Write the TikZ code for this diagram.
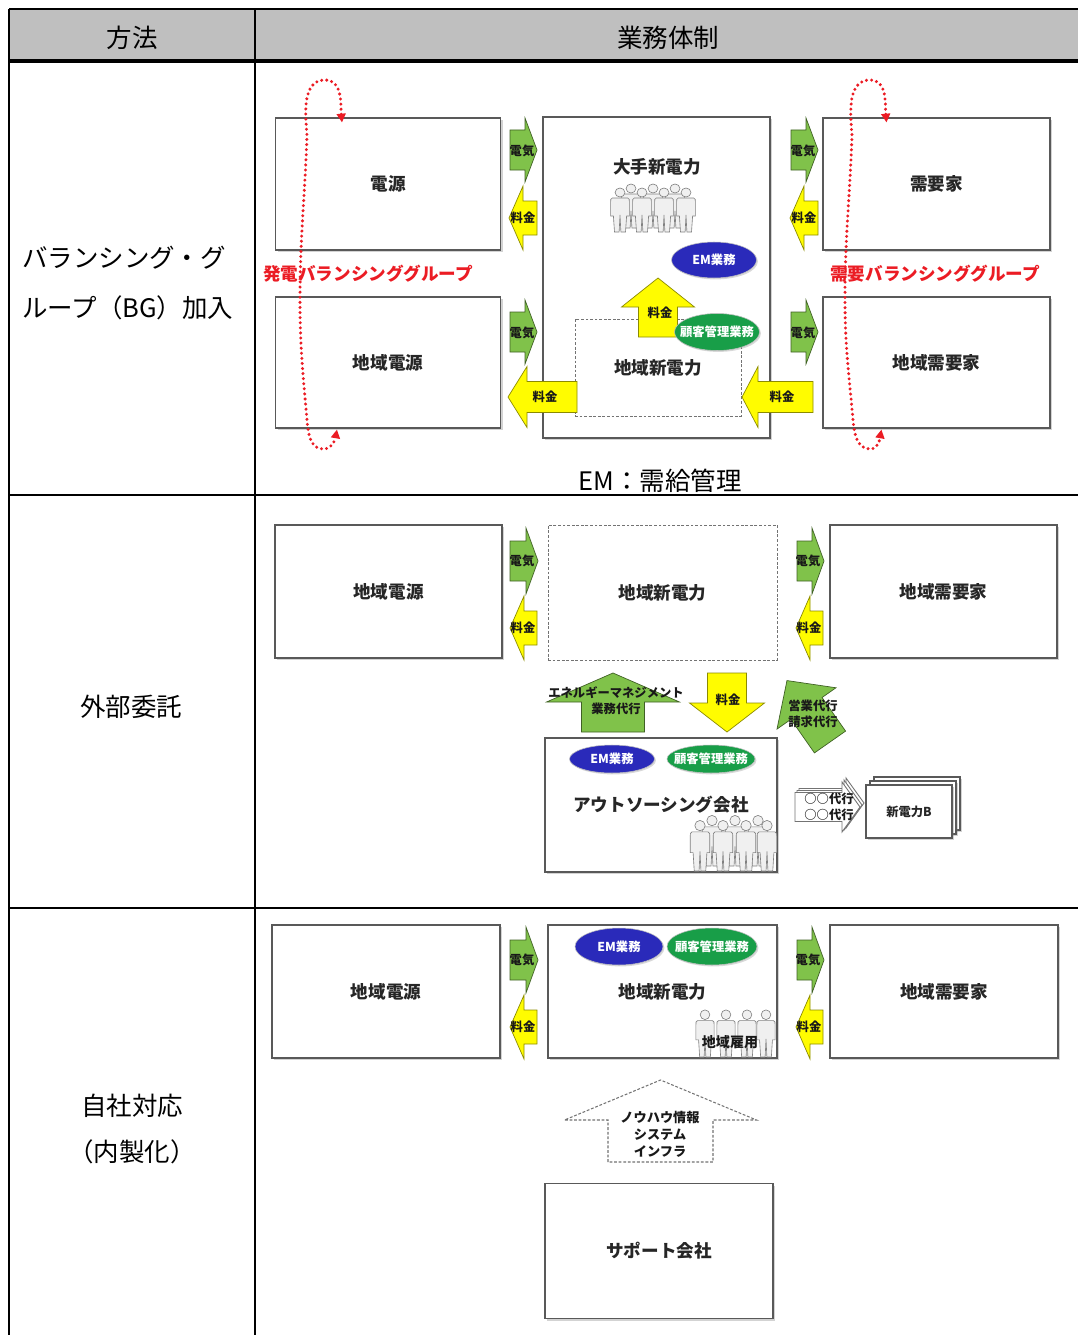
\documentclass[tikz,border=0pt]{standalone}
\usepackage{fontspec}
\setmainfont{Noto Sans CJK JP}
\usetikzlibrary{calc,shadows,shapes.geometric,arrows.meta}
\definecolor{elgreen}{RGB}{128,194,74}
\definecolor{feeyel}{RGB}{255,252,0}
\definecolor{emblue}{RGB}{42,42,186}
\definecolor{cmgreen}{RGB}{24,158,72}
\definecolor{bgred}{RGB}{235,28,36}
\tikzset{
  every node/.style={inner sep=1pt},
  wh/.style 2 args={minimum width=#1*0.02cm, minimum height=#2*0.02cm},
  tabline/.style={line width=1.2pt},
  headtxt/.style={font=\fontsize{14.5}{17}\selectfont},
  boxlab/.style={font=\fontsize{10}{12}\selectfont\bfseries, text=black!85},
  unit/.style={rectangle, draw=black!65, line width=0.6pt, fill=white, boxlab,
    drop shadow={shadow xshift=1.3pt, shadow yshift=-1.3pt, opacity=0.35}},
  dashunit/.style={rectangle, draw=black!55, dash pattern=on 1.6pt off 1pt, line width=0.5pt, fill=white, boxlab},
  elec/.style={fill=elgreen, draw=elgreen!50!black, line width=0.4pt},
  fee/.style={fill=feeyel, draw=feeyel!55!black, line width=0.4pt},
  agent/.style={fill=white, draw=black!55, line width=0.5pt},
  knowhow/.style={fill=white, draw=black!55, dash pattern=on 1.6pt off 1pt, line width=0.6pt},
  arrlab/.style={font=\fontsize{7}{9.2}\selectfont\bfseries, align=center, text=black!90},
  task/.style={ellipse, draw=black!25, line width=0.3pt,
    drop shadow={shadow xshift=0.8pt, shadow yshift=-0.8pt, opacity=0.3}},
  tasklab/.style={font=\fontsize{7}{8}\selectfont\bfseries, text=white},
  bgloop/.style={bgred, line width=1.9pt, line cap=round, dash pattern=on 0pt off 2.9pt,
    {Triangle[length=5pt,width=5pt]}-{Triangle[length=5pt,width=5pt]}},
  bglab/.style={font=\fontsize{10}{12}\selectfont\bfseries, text=bgred},
  personfill/.style={fill=black!6, draw=black!50, line width=0.35pt},
  pics/person/.style={code={
    \path[personfill] (0,-39.5) circle[radius=4.5];
    \path[personfill] (-7,-34) -- (7,-34) to[out=0,in=90] (8.5,-30) -- (8.5,-16) -- (6,-16) -- (5,0)
      -- (0.8,0) -- (0,-17) -- (-0.8,0) -- (-5,0) -- (-6,-16) -- (-8.5,-16) -- (-8.5,-30)
      to[out=90,in=180] (-7,-34) -- cycle;
  }},
  pics/blkarrow/.style n args={5}{code={
    \path[#5] (0,{-#3/2}) -- ({#1-#2},{-#3/2}) -- ({#1-#2},{-#4/2}) -- (#1,0)
      -- ({#1-#2},{#4/2}) -- ({#1-#2},{#3/2}) -- (0,{#3/2}) -- cycle;
  }}
}

\begin{document}
\begin{tikzpicture}[x=0.02cm,y=-0.02cm]
  \useasboundingbox (0,0) rectangle (1078,1335);
  % table
  \fill[black!25] (9,9) rectangle (1078,61);
  \draw[tabline] (9,9) -- (1078,9);
  \draw[tabline, line width=2.3pt] (9,61) -- (1078,61);
  \draw[tabline] (9,495) -- (1078,495);
  \draw[tabline] (9,908) -- (1078,908);
  \draw[tabline] (9,9) -- (9,1335);
  \draw[tabline] (255,9) -- (255,1335);
  \node[headtxt] (hmeth) at (132,38) {方法};
  \node[headtxt] (hsys) at (668,38) {業務体制};
  \node[headtxt, anchor=west] (r1a) at (20,258) {バランシング・グ};
  \node[headtxt, anchor=west] (r1b) at (20,308) {ループ（BG）加入};
  \node[headtxt] (r2) at (131,707) {外部委託};
  \node[headtxt] (r3a) at (132,1106) {自社対応};
  \node[headtxt] (r3b) at (132,1152) {（内製化）};
  \node[headtxt] (emnote) at (660,481) {EM：需給管理};

  % BG
  \node[unit, wh={225}{132}] (gen) at (388,184) {電源};
  \node[unit, wh={225}{131}] (lgen) at (388,362.5) {地域電源};
  \node[unit, wh={227}{321}] (big) at (656.5,277.5) {};
  \node[boxlab] (bigl) at (657,167) {大手新電力};
  \node[unit, wh={227}{132}] (dem) at (936.5,184) {需要家};
  \node[unit, wh={227}{131}] (ldem) at (936.5,362.5) {地域需要家};
  \node[dashunit, wh={166}{97}] (lnew) at (658,367.5) {地域新電力};
  \foreach \x/\n in {510/a,791/b} {
    \pic at (\x,150) {blkarrow={27}{12}{40}{64}{elec}};
    \pic at (\x,332) {blkarrow={27}{12}{40}{64}{elec}};
    \pic[rotate=180] at (\x+27,218) {blkarrow={28}{14}{34}{64}{fee}};
    \node[arrlab] (el\n) at (\x+12,151) {電気};
    \node[arrlab] (lel\n) at (\x+12,333) {電気};
    \node[arrlab] (fe\n) at (\x+13,218) {料金};
  }
  \pic[rotate=180] at (577,397) {blkarrow={69}{19}{31}{61}{fee}};
  \pic[rotate=180] at (813,397) {blkarrow={71}{16}{31}{61}{fee}};
  \pic[rotate=90] at (658,337) {blkarrow={59}{29}{39}{73}{fee}};
  \node[arrlab] (lfea) at (545,397) {料金};
  \node[arrlab] (lfeb) at (782,397) {料金};
  \node[arrlab] (upfee) at (660,313) {料金};
  \node[task, fill=emblue, wh={85}{36}] (em1) at (714,260) {};
  \node[tasklab] (em1l) at (em1) {EM業務};
  \node[task, fill=cmgreen, wh={85}{37}] (cm1) at (717,332) {};
  \node[tasklab] (cm1l) at (cm1) {顧客管理業務};
  \foreach \x in {631,653,675} \pic[xscale=1.1] at (\x,228) {person};
  \foreach \x in {620,642,664,686} \pic[xscale=1.1] at (\x,232) {person};
  \node[bglab] (genbg) at (368,274) {発電バランシンググループ};
  \node[bglab] (dembg) at (935,274) {需要バランシンググループ};
  \draw[bgloop] ($(gen.north west)+(67,5)$) to[out=95,in=0] (325,80) to[out=180,in=95] (307,135)
    to[out=-92,in=90] (300,300) to[out=-90,in=95] (307,420) to[out=-85,in=180] (323,449)
    to[out=0,in=-100] ($(lgen.south west)+(62,1)$);
  \draw[bgloop] ($(dem.north west)+(64,5)$) to[out=95,in=0] (870,80) to[out=180,in=95] (852,135)
    to[out=-92,in=90] (845,300) to[out=-90,in=95] (853,420) to[out=-85,in=180] (870,449)
    to[out=0,in=-100] ($(ldem.south west)+(59,1)$);

  % outsourcing
  \node[unit, wh={227}{133}] (gen2) at (388.5,591.5) {地域電源};
  \node[dashunit, wh={229}{135}] (new2) at (662.5,592.5) {地域新電力};
  \node[unit, wh={227}{133}] (dem2) at (943.5,591.5) {地域需要家};
  \pic[rotate=90] at (613,732) {blkarrow={59}{29}{63}{133}{elec}};
  \node[arrlab] (emagt) at (616,701) {エネルギーマネジメント\\業務代行};
  \pic[rotate=-90] at (727,673) {blkarrow={59}{29}{39}{75}{fee}};
  \node[arrlab] (fee2) at (728,700) {料金};
  \pic[rotate=125] at (830,742) {blkarrow={75}{34}{38}{72}{elec}};
  \node[arrlab] (salesagt) at (813,714) {営業代行\\請求代行};
  \node[unit, wh={232}{134}] (outs) at (661,805) {アウトソーシング会社};
  \node[task, fill=emblue, wh={85}{28}] (em2) at (612,759) {};
  \node[tasklab] (em2l) at (em2) {EM業務};
  \node[task, fill=cmgreen, wh={88}{28}] (cm2) at (711,759) {};
  \node[tasklab] (cm2l) at (cm2) {顧客管理業務};
  \foreach \x in {712,735,758} \pic[scale=1.15] at (\x,866) {person};
  \foreach \x in {700,723,746,767} \pic[scale=1.15] at (\x,871) {person};
  \foreach \d in {4,2,0} \pic at (795+\d,807-\d) {blkarrow={65}{18}{29}{50}{agent}};
  \node[arrlab] (anyagt) at (829,807) {○○代行\\○○代行};
  \foreach \d in {8,4} \node[unit, wh={86}{53}] (nbk\d) at (909+\d,811.5-\d) {};
  \node[unit, wh={86}{53}, font=\fontsize{7}{8}\selectfont\bfseries] (nb) at (909,811.5) {新電力B};

  % in-house
  \node[unit, wh={228}{133}] (gen3) at (386,991.5) {地域電源};
  \node[unit, wh={229}{133}] (new3) at (662.5,991.5) {地域新電力};
  \node[unit, wh={228}{133}] (dem3) at (944,991.5) {地域需要家};
  \foreach \y/\r in {561/b,960/c} {
    \pic at (510,\y) {blkarrow={28}{12}{40}{66}{elec}};
    \pic at (797,\y) {blkarrow={27}{12}{40}{66}{elec}};
    \pic[rotate=180] at (537,\y+67) {blkarrow={27}{14}{34}{64}{fee}};
    \pic[rotate=180] at (823,\y+67) {blkarrow={27}{14}{34}{64}{fee}};
    \node[arrlab] (gel\r) at (522,\y) {電気};
    \node[arrlab] (gfe\r) at (523,\y+67) {料金};
    \node[arrlab] (del\r) at (808,\y) {電気};
    \node[arrlab] (dfe\r) at (809,\y+67) {料金};
  }
  \node[task, fill=emblue, wh={88}{37}] (em3) at (619,946.5) {};
  \node[tasklab] (em3l) at (em3) {EM業務};
  \node[task, fill=cmgreen, wh={90}{37}] (cm3) at (712,946.5) {};
  \node[tasklab] (cm3l) at (cm3) {顧客管理業務};
  \foreach \x in {705,726,747,766} \pic[scale=1.07] at (\x,1057) {person};
  \node[arrlab, font=\fontsize{8}{9}\selectfont\bfseries] (hire) at (730,1042) {地域雇用};
  \pic[rotate=90] at (660.5,1162) {blkarrow={82}{40}{105}{192}{knowhow}};
  \node[arrlab, font=\fontsize{7.5}{9.6}\selectfont\bfseries] (khow) at (660,1134) {ノウハウ情報\\システム\\インフラ};
  \node[unit, wh={228}{135}] (sup) at (659,1251) {サポート会社};
\end{tikzpicture}
\end{document}
